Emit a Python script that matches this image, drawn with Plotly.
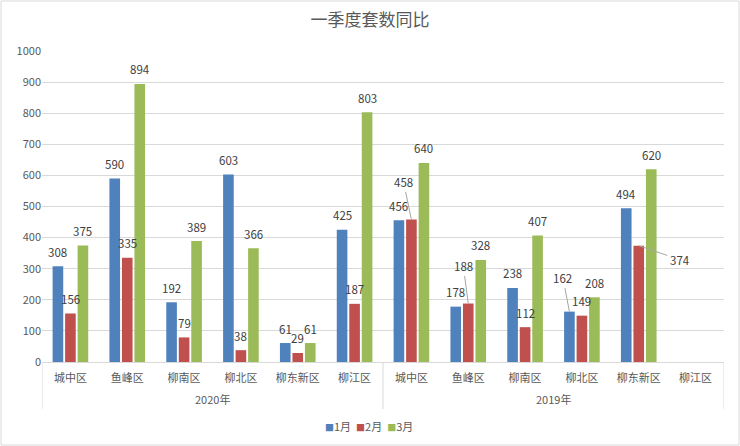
import plotly.graph_objects as go

year_groups = ["2020年", "2019年"]
districts = ["城中区", "鱼峰区", "柳南区", "柳北区", "柳东新区", "柳江区"]
series_names = ["1月", "2月", "3月"]
jan = [308, 590, 192, 603, 61, 425, 456, 178, 238, 162, 494, None]
feb = [156, 335, 79, 38, 29, 187, 458, 188, 112, 149, 374, None]
mar = [375, 894, 389, 366, 61, 803, 640, 328, 407, 208, 620, None]
colors = ["#4f81bd", "#c0504d", "#9bbb59"]

# labels that were moved away from their bar (with a leader line): (series, category) -> (dx, dy) px
moved_labels = {(1, 6): (-8, -38), (1, 7): (-5, -38), (0, 9): (-6.5, -34), (1, 10): (41, 14)}

font_family = "Noto Sans CJK SC, Microsoft YaHei, sans-serif"
W, H = 740, 446
ML, MR, MT, MB = 42, 16, 51, 84
BARGAP, GROUPGAP = 0.34, 0.15
PH = H - MT - MB
PW = W - ML - MR

n_cat = len(year_groups) * len(districts)
xs = list(range(n_cat))
tick_text = districts * len(year_groups)

fig = go.Figure()
for name, vals, c in zip(series_names, [jan, feb, mar], colors):
    fig.add_trace(go.Bar(
        name=name, x=xs, y=vals,
        marker=dict(color=c, line=dict(width=0)),
        cliponaxis=False, showlegend=False,
    ))

annotations = []
# data labels
cat_px = PW / n_cat
slot_px = cat_px * (1 - BARGAP) / 3
for j, vals in enumerate([jan, feb, mar]):
    for i, v in enumerate(vals):
        if v is None:
            continue
        base_dx = (j - 1) * slot_px
        if (j, i) in moved_labels:
            dx, dy = moved_labels[(j, i)]
            annotations.append(dict(
                x=i, y=v, xref="x", yref="y", text=str(v), showarrow=True,
                arrowhead=0, arrowwidth=1, arrowcolor="#a6a6a6",
                ax=dx, ay=dy, xshift=base_dx, standoff=0, startstandoff=1,
                font=dict(size=11.5, color="#404040"),
            ))
        else:
            annotations.append(dict(
                x=i, y=v, xref="x", yref="y", text=str(v), showarrow=False,
                xshift=base_dx, yshift=14.5, yanchor="middle", xanchor="center",
                font=dict(size=11.5, color="#404040"),
            ))

# group (year) labels and dividers of the two-level category axis
shapes = []
n_d = len(districts)
for g, yr in enumerate(year_groups):
    annotations.append(dict(
        x=g * n_d + (n_d - 1) / 2, y=0, xref="x", yref="paper", yshift=-37,
        text=yr, showarrow=False, yanchor="middle",
        font=dict(size=11, color="#595959"),
    ))
for b in range(len(year_groups) + 1):
    shapes.append(dict(type="line", xref="x", yref="paper",
                       x0=b * n_d - 0.5, x1=b * n_d - 0.5, y0=0, y1=-47 / PH,
                       line=dict(color="#d9d9d9", width=1)))

# legend drawn as a single line of coloured squares and names
legend_text = "&nbsp;&nbsp;".join(
    f"<span style='color:{c};font-size:9px'>■</span>{n}" for n, c in zip(series_names, colors))
annotations.append(dict(x=(369 - ML) / PW, y=-(426 - (H - MB)) / PH, xref="paper", yref="paper",
                        text=legend_text, showarrow=False, yanchor="middle", xanchor="center",
                        font=dict(size=11, color="#595959")))

# outer frame of the chart
shapes.append(dict(type="rect", xref="paper", yref="paper", layer="below",
                   x0=-(ML - 1) / PW, x1=1 + (MR - 1) / PW,
                   y0=-(MB - 1) / PH, y1=1 + (MT - 1) / PH,
                   line=dict(color="#d9d9d9", width=1)))

fig.update_layout(
    width=W, height=H,
    margin=dict(l=ML, r=MR, t=MT, b=MB, autoexpand=False),
    paper_bgcolor="white", plot_bgcolor="white",
    font=dict(family=font_family, size=11, color="#595959"),
    title=dict(text="一季度套数同比", x=0.5, xanchor="center", y=1 - 20 / H, yanchor="middle",
               yref="container", pad=dict(t=0, b=0),
               font=dict(size=17, color="#595959")),
    barmode="group", bargap=BARGAP, bargroupgap=GROUPGAP,
    showlegend=False,
    xaxis=dict(range=[-0.5, n_cat - 0.5], tickmode="array", tickvals=xs, ticktext=tick_text,
               showline=True, linecolor="#d9d9d9", linewidth=1, showgrid=False, zeroline=False,
               tickfont=dict(size=11, color="#595959"), ticks="", automargin=False,
               ticklabelstandoff=6),
    yaxis=dict(range=[0, 1000], dtick=100, showgrid=True, gridcolor="#d9d9d9", gridwidth=1,
               zeroline=False, showline=False, tickfont=dict(size=11, color="#595959"),
               ticks="", automargin=False),
    annotations=annotations,
    shapes=shapes,
)

fig.write_html("out.html", config={"displayModeBar": False},
               post_script="document.body.style.margin='0';document.body.style.overflow='hidden';")
